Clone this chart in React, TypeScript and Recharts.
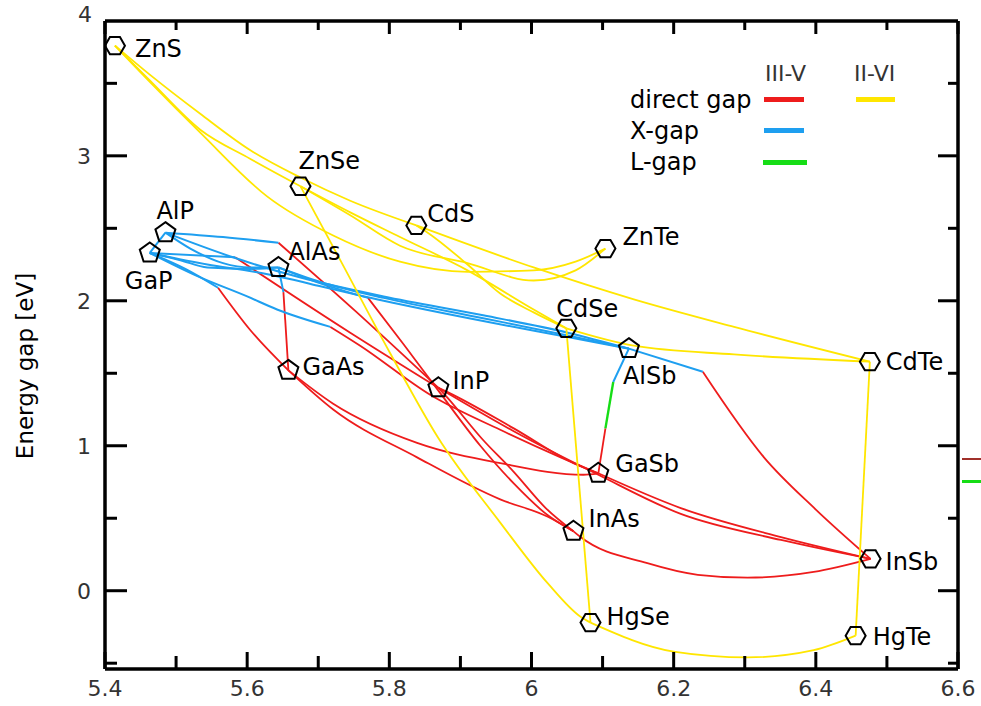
import React from 'react';
import { ComposedChart, Line, Scatter, XAxis, YAxis } from 'recharts';

type Pt = [number, number];

// binary compounds: lattice constant (Å) and band gap (eV)
const compoundNames = ['ZnS', 'ZnSe', 'CdS', 'ZnTe', 'CdSe', 'CdTe', 'HgSe', 'HgTe', 'AlP', 'GaP', 'AlAs', 'GaAs', 'InP', 'AlSb', 'GaSb', 'InAs', 'InSb'];
const latticeConst = [5.414, 5.675, 5.838, 6.104, 6.049, 6.476, 6.083, 6.456, 5.485, 5.463, 5.644, 5.658, 5.869, 6.137, 6.094, 6.059, 6.477];
const energyGap = [3.76, 2.79, 2.52, 2.36, 1.81, 1.58, -0.22, -0.31, 2.47, 2.33, 2.23, 1.52, 1.4, 1.67, 0.81, 0.41, 0.22];
const hexagonNames = ['ZnS', 'ZnSe', 'CdS', 'ZnTe', 'CdSe', 'CdTe', 'HgSe', 'HgTe', 'InSb'];

// II-VI alloys
const znsZnse: Pt[] = [[5.414, 3.76], [5.463, 3.52], [5.534, 3.18], [5.604, 2.98], [5.675, 2.79]];
const znsCds: Pt[] = [[5.414, 3.76], [5.463, 3.56], [5.534, 3.29], [5.604, 3.04], [5.675, 2.85], [5.745, 2.69], [5.838, 2.52]];
const znsZnte: Pt[] = [[5.414, 3.76], [5.463, 3.51], [5.534, 3.16], [5.628, 2.72], [5.721, 2.45], [5.815, 2.27], [5.91, 2.2], [6.003, 2.21], [6.062, 2.27], [6.104, 2.36]];
const znseZnte: Pt[] = [[5.675, 2.79], [5.745, 2.59], [5.815, 2.38], [5.91, 2.26], [6.003, 2.14], [6.062, 2.21], [6.104, 2.36]];
const znseCdse: Pt[] = [[5.675, 2.79], [5.745, 2.61], [5.815, 2.44], [5.91, 2.21], [6.003, 1.94], [6.049, 1.81]];
const cdsCdse: Pt[] = [[5.838, 2.52], [5.854, 2.47], [5.91, 2.25], [5.956, 2.05], [6.003, 1.92], [6.049, 1.81]];
const cdsCdte: Pt[] = [[5.838, 2.52], [6.003, 2.23], [6.144, 2.01], [6.285, 1.82], [6.476, 1.58]];
const cdseCdte: Pt[] = [[6.049, 1.81], [6.144, 1.69], [6.285, 1.63], [6.476, 1.58]];
const cdseHgse: Pt[] = [[6.049, 1.81], [6.083, -0.22]];
const znseHgse: Pt[] = [[5.675, 2.79], [5.731, 2.28], [5.801, 1.64], [5.868, 1.06], [5.956, 0.47], [6.023, 0.05], [6.069, -0.18], [6.083, -0.22]];
const cdteHgte: Pt[] = [[6.456, -0.31], [6.476, 1.58]];
const hgseHgte: Pt[] = [[6.083, -0.22], [6.2, -0.42], [6.304, -0.46], [6.397, -0.41], [6.456, -0.31]];

// III-V alloys, X-gap parts
const alpGap: Pt[] = [[5.463, 2.33], [5.485, 2.47]];
const alpAlas: Pt[] = [[5.485, 2.47], [5.52, 2.36], [5.566, 2.26], [5.604, 2.23], [5.644, 2.23]];
const gapAlas: Pt[] = [[5.463, 2.33], [5.506, 2.28], [5.544, 2.23], [5.604, 2.22], [5.644, 2.23]];
const alpInpX: Pt[] = [[5.485, 2.47], [5.566, 2.44], [5.644, 2.4]];
const gapInpX: Pt[] = [[5.463, 2.33], [5.583, 2.3]];
const gapGaasX: Pt[] = [[5.463, 2.33], [5.513, 2.22], [5.559, 2.09]];
const gapGasbX: Pt[] = [[5.463, 2.33], [5.53, 2.17], [5.6, 2.03], [5.642, 1.94], [5.717, 1.82]];
const alasGaasX: Pt[] = [[5.644, 2.23], [5.651, 2.06]];
const alpAlsb: Pt[] = [[5.485, 2.47], [5.58, 2.3], [5.675, 2.16], [5.792, 2.03], [5.932, 1.9], [6.051, 1.78], [6.137, 1.67]];
const alasAlsb: Pt[] = [[5.644, 2.23], [5.703, 2.13], [5.792, 2.02], [5.932, 1.88], [6.051, 1.76], [6.137, 1.67]];
const gapAlsb: Pt[] = [[5.463, 2.33], [5.544, 2.25], [5.61, 2.2], [5.66, 2.15], [5.703, 2.1], [5.792, 2.0], [5.932, 1.86], [6.051, 1.75], [6.137, 1.67]];
const alasInasX: Pt[] = [[5.644, 2.23], [5.703, 2.12], [5.77, 2.02]];
const alsbInsbX: Pt[] = [[6.137, 1.67], [6.241, 1.51]];
const alsbGasbX: Pt[] = [[6.115, 1.44], [6.137, 1.67]];

// III-V alloys, L-gap part
const alsbGasbL: Pt[] = [[6.104, 1.12], [6.115, 1.44]];

// III-V alloys, direct-gap parts
const alpInp: Pt[] = [[5.644, 2.4], [5.752, 1.93], [5.869, 1.4]];
const gapInp: Pt[] = [[5.583, 2.3], [5.745, 1.78], [5.869, 1.4]];
const gapGaas: Pt[] = [[5.559, 2.09], [5.604, 1.8], [5.658, 1.52]];
const alasGaas: Pt[] = [[5.651, 2.06], [5.658, 1.52]];
const gapGasb: Pt[] = [[5.717, 1.82], [5.759, 1.69], [5.858, 1.35], [5.956, 1.11], [6.041, 0.92], [6.094, 0.81]];
const alasInas: Pt[] = [[5.77, 2.02], [5.82, 1.7], [5.869, 1.38], [5.928, 1.0], [5.975, 0.74], [6.023, 0.52], [6.059, 0.41]];
const inpInas: Pt[] = [[5.869, 1.4], [5.882, 1.33], [5.93, 1.05], [5.975, 0.82], [6.02, 0.57], [6.059, 0.41]];
const gaasInas: Pt[] = [[5.658, 1.52], [5.721, 1.25], [5.839, 0.92], [5.956, 0.63], [6.023, 0.51], [6.059, 0.41]];
const gaasGasb: Pt[] = [[5.658, 1.52], [5.721, 1.29], [5.839, 1.02], [5.956, 0.88], [6.073, 0.8], [6.094, 0.81]];
const inpGasb: Pt[] = [[5.869, 1.4], [5.882, 1.37], [5.975, 1.12], [6.059, 0.88], [6.094, 0.81]];
const inpInsb: Pt[] = [[5.869, 1.4], [5.975, 1.1], [6.094, 0.8], [6.21, 0.53], [6.351, 0.35], [6.477, 0.22]];
const gasbInsb: Pt[] = [[6.094, 0.81], [6.21, 0.57], [6.351, 0.37], [6.477, 0.22]];
const alsbInsb: Pt[] = [[6.241, 1.51], [6.327, 0.92], [6.4, 0.56], [6.477, 0.22]];
const inasInsb: Pt[] = [[6.059, 0.41], [6.069, 0.37], [6.163, 0.19], [6.234, 0.11], [6.304, 0.09], [6.397, 0.13], [6.477, 0.22]];
const alsbGasb: Pt[] = [[6.094, 0.81], [6.104, 1.12]];

const iiviCurves = [znsZnse, znsCds, znsZnte, znseZnte, znseCdse, cdsCdse, cdsCdte, cdseCdte, cdseHgse, znseHgse, cdteHgte, hgseHgte];
const xGapCurves = [alpGap, alpAlas, gapAlas, alpInpX, gapInpX, gapGaasX, gapGasbX, alasGaasX, alpAlsb, alasAlsb, gapAlsb, alasInasX, alsbInsbX, alsbGasbX];
const lGapCurves = [alsbGasbL];
const directCurves = [alpInp, gapInp, gapGaas, alasGaas, gapGasb, alasInas, inpInas, gaasInas, gaasGasb, inpGasb, inpInsb, gasbInsb, alsbInsb, inasInsb, alsbGasb];

const xMajorTicks = [5.4, 5.6, 5.8, 6, 6.2, 6.4, 6.6];
const xMinorTicks = [5.5, 5.7, 5.9, 6.1, 6.3, 6.5];
const yMajorTicks = [0, 1, 2, 3];
const yMinorTicks = [-0.5, 0.5, 1.5, 2.5, 3.5];
const yTopLabel = '4';

const FONT = '"DejaVu Sans", sans-serif';
const RED = '#ee1c1c';
const BLUE = '#1e9ff0';
const YELLOW = '#ffe600';
const GREEN = '#16dd16';

// label position relative to the marker (left edge, vertical centre)
const labelOffset: Record<string, [number, number]> = {
  ZnS: [20, 3], ZnSe: [-2, -26], AlP: [-9, -22], GaP: [-25, 27], AlAs: [10, -16],
  GaAs: [14, -4], InP: [14, -7], CdS: [11, -12], ZnTe: [17, -12], CdSe: [-10, -20],
  AlSb: [-6, 27], CdTe: [16, 0], GaSb: [17, -10], InAs: [15, -13], InSb: [15, 3],
  HgSe: [16, -6], HgTe: [17, 1],
};

const toRows = (pts: Pt[]) => [...pts].sort((a, b) => a[0] - b[0]).map(([x, y]) => ({ x, y }));

const compounds = compoundNames.map((name, i) => ({ name, x: latticeConst[i], y: energyGap[i] }));

const Marker = (props: any) => {
  const { cx, cy, payload } = props;
  if (cx == null || cy == null) return null;
  const hex = hexagonNames.includes(payload.name);
  const n = hex ? 6 : 5;
  const r = hex ? 10 : 10.5;
  const start = hex ? 0 : -Math.PI / 2;
  const pts = Array.from({ length: n }, (_, k) => {
    const a = start + (2 * Math.PI * k) / n;
    return `${cx + r * Math.cos(a)},${cy + r * Math.sin(a)}`;
  }).join(' ');
  const [dx, dy] = labelOffset[payload.name] || [14, 0];
  return (
    <g>
      <polygon points={pts} fill="none" stroke="#000" strokeWidth={2} />
      <text x={cx + dx} y={cy + dy} dy="0.36em" fontSize={24} fontFamily={FONT} fill="#000">
        {payload.name}
      </text>
    </g>
  );
};

const BottomTick = (props: any) => {
  const { x, y, payload } = props;
  const major = xMajorTicks.includes(payload.value);
  return (
    <g>
      <line x1={x} y1={y} x2={x} y2={y - (major ? 17 : 13)} stroke="#000" strokeWidth={3} />
      {major && (
        <text x={x} y={y + 27} textAnchor="middle" fontSize={22} fontFamily={FONT} fill="#333">
          {String(payload.value)}
        </text>
      )}
    </g>
  );
};

const TopTick = (props: any) => {
  const { x, y, payload } = props;
  const major = xMajorTicks.includes(payload.value);
  return <line x1={x} y1={y} x2={x} y2={y + (major ? 13 : 9)} stroke="#000" strokeWidth={3} />;
};

const LeftTick = (props: any) => {
  const { x, y, payload } = props;
  const major = yMajorTicks.includes(payload.value);
  return (
    <g>
      <line x1={x} y1={y} x2={x + (major ? 22 : 12)} y2={y} stroke="#000" strokeWidth={3} />
      {major && (
        <text x={x - 14} y={y + 8} textAnchor="end" fontSize={22} fontFamily={FONT} fill="#333">
          {String(payload.value)}
        </text>
      )}
    </g>
  );
};

const RightTick = (props: any) => {
  const { x, y, payload } = props;
  const major = yMajorTicks.includes(payload.value);
  return <line x1={x} y1={y} x2={x - (major ? 20 : 10)} y2={y} stroke="#000" strokeWidth={3} />;
};

const curveLine = (pts: Pt[], color: string, width: number, key: string) => (
  <Line
    key={key}
    data={toRows(pts)}
    dataKey="y"
    type={pts.length > 2 ? 'monotone' : 'linear'}
    stroke={color}
    strokeWidth={width}
    dot={false}
    activeDot={false}
    isAnimationActive={false}
  />
);

export default function App() {
  const xTicks = [...xMajorTicks, ...xMinorTicks].sort((a, b) => a - b);
  const yTicks = [...yMajorTicks, ...yMinorTicks].sort((a, b) => a - b);
  const axisLine = { stroke: '#000', strokeWidth: 3.5 };

  return (
    <div style={{ position: 'absolute', left: 0, top: 0, width: 981, height: 706, background: '#fff' }}>
      <ComposedChart width={981} height={706} margin={{ top: 20, right: 22, bottom: 36, left: 104 }}>
        <XAxis dataKey="x" type="number" domain={[5.4, 6.6]} ticks={xTicks} interval={0} height={1}
          tickSize={0} tickMargin={0} tickLine={false} axisLine={axisLine} tick={<BottomTick />} allowDataOverflow />
        <XAxis xAxisId="top" orientation="top" dataKey="x" type="number" domain={[5.4, 6.6]} ticks={xTicks} interval={0}
          height={1} tickSize={0} tickMargin={0} tickLine={false} axisLine={axisLine} tick={<TopTick />} allowDataOverflow />
        <YAxis dataKey="y" type="number" domain={[-0.54, 3.93]} ticks={yTicks} interval={0} width={1}
          tickSize={0} tickMargin={0} tickLine={false} axisLine={axisLine} tick={<LeftTick />} allowDataOverflow />
        <YAxis yAxisId="right" orientation="right" dataKey="y" type="number" domain={[-0.54, 3.93]} ticks={yTicks}
          interval={0} width={1} tickSize={0} tickMargin={0} tickLine={false} axisLine={axisLine} tick={<RightTick />} allowDataOverflow />

        {directCurves.map((c, i) => curveLine(c, RED, 1.8, `d${i}`))}
        {xGapCurves.map((c, i) => curveLine(c, BLUE, 2, `x${i}`))}
        {lGapCurves.map((c, i) => curveLine(c, GREEN, 2.4, `l${i}`))}
        {iiviCurves.map((c, i) => curveLine(c, YELLOW, 1.8, `y${i}`))}

        <Scatter data={compounds} shape={(p: any) => <Marker {...p} />} isAnimationActive={false} />
        <Line xAxisId="top" yAxisId="right" data={toRows([[5.4, -0.54], [6.6, 3.93]])} dataKey="y" stroke="none" dot={false} activeDot={false} isAnimationActive={false} />
      </ComposedChart>

      <svg width={981} height={706} style={{ position: 'absolute', left: 0, top: 0, pointerEvents: 'none' }}>
        <text x={92} y={22} textAnchor="end" fontSize={22} fontFamily={FONT} fill="#333">{yTopLabel}</text>
        <text transform="translate(33,366) rotate(-90)" textAnchor="middle" fontSize={23} fontFamily={FONT} fill="#000">
          Energy gap [eV]
        </text>

        <text x={765} y={81} fontSize={22} fontFamily={FONT} fill="#333">III-V</text>
        <text x={854} y={81} fontSize={22} fontFamily={FONT} fill="#333">II-VI</text>
        <text x={630} y={108} fontSize={24} fontFamily={FONT} fill="#000">direct gap</text>
        <text x={630} y={139} fontSize={24} fontFamily={FONT} fill="#000">X-gap</text>
        <text x={630} y={170} fontSize={24} fontFamily={FONT} fill="#000">L-gap</text>
        <rect x={764} y={97} width={40} height={5} fill={RED} />
        <rect x={856} y={97} width={39} height={5} fill={YELLOW} />
        <rect x={764} y={128} width={40} height={5} fill={BLUE} />
        <rect x={763} y={160} width={44} height={5} fill={GREEN} />

        <rect x={962} y={458} width={19} height={2} fill="#a0302a" />
        <rect x={962} y={480} width={19} height={3} fill={GREEN} />
      </svg>
    </div>
  );
}
